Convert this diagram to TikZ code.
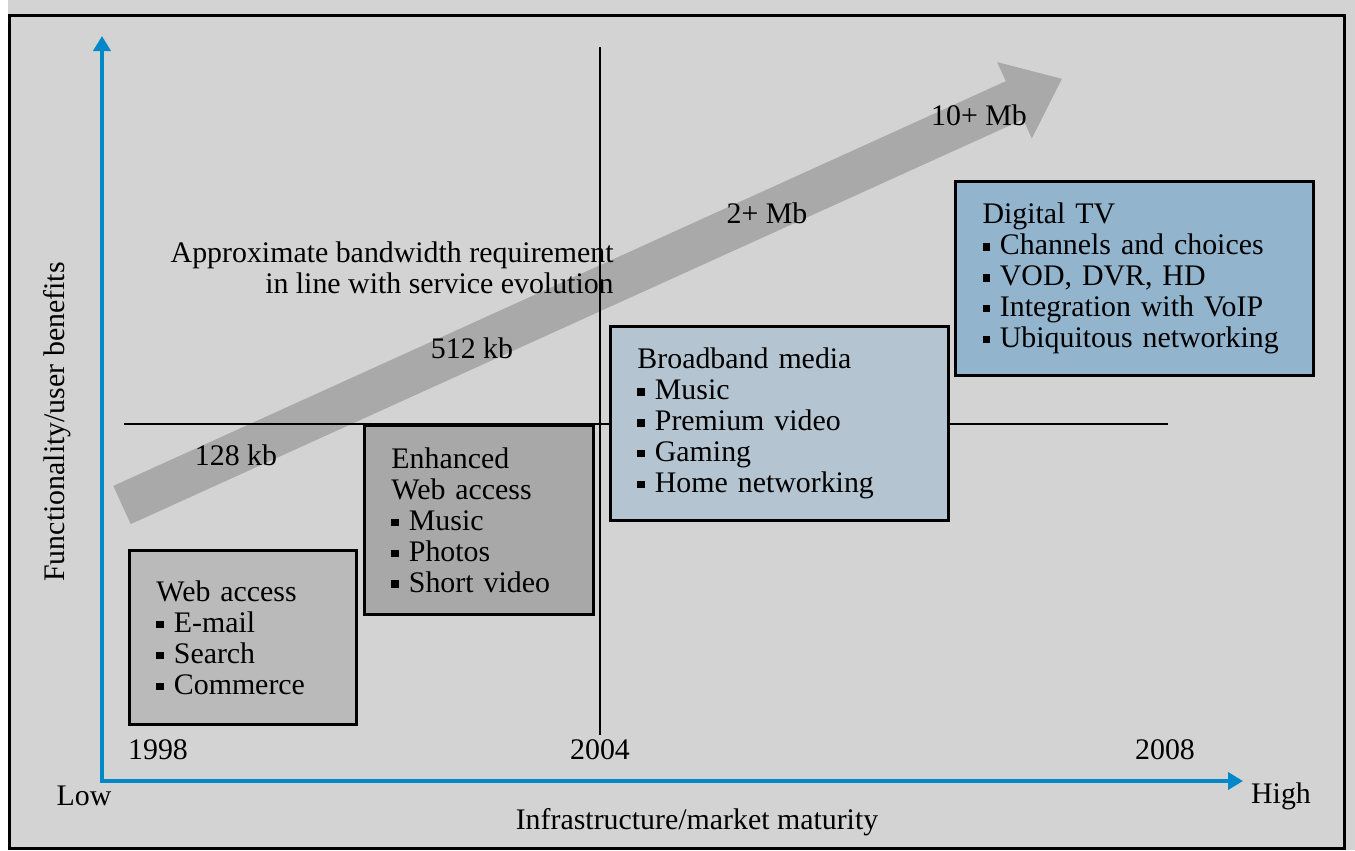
\documentclass[tikz,border=0pt]{standalone}
\usepackage{fontspec}
\setmainfont{Liberation Serif}
\usepackage{tikz}
\usetikzlibrary{arrows.meta, positioning, calc}

\definecolor{panelgray}{HTML}{D3D3D3}
\definecolor{webgray}{HTML}{BABABA}
\definecolor{enhgray}{HTML}{A8A8A8}
\definecolor{bandgray}{HTML}{A9A9A9}
\definecolor{mediablue}{HTML}{B4C4D0}
\definecolor{tvblue}{HTML}{92B4CC}
\definecolor{axisblue}{HTML}{0088C8}

% small square bullet for the service lists
\newcommand{\itm}{\raisebox{0.3ex}{\rule{0.25em}{0.25em}}\ }

\tikzset{
  txt/.style={font=\fontsize{17}{17.6}\selectfont, inner sep=0pt},
  stagebox/.style={txt, draw=black, line width=1.7pt, anchor=north west,
    align=left, inner xsep=0.54cm, inner ysep=0pt},
  axisline/.style={axisblue, line width=2.2pt,
    {Triangle[width=0.34cm, length=0.3cm]}-{Triangle[width=0.34cm, length=0.3cm]}},
  divider/.style={black, line width=1.1pt},
}

\begin{document}
\begin{tikzpicture}[x=0.02cm, y=-0.02cm]
    \useasboundingbox (0,0) rectangle (1355,850);
    % Panel
    \fill[panelgray] (0,0) rectangle (1355,850);
    \fill[white] (0,0) rectangle (8,850);
    \draw[line width=1.7pt] (9.5,15.5) rectangle (1344.5,848.5);
    % Bandwidth arrow
    \fill[bandgray] (113.3,485.9) -- (1005.8,81.2) -- (997.2,62.1) -- (1061.9,78.8)
        -- (1031.8,138.5) -- (1023.2,119.4) -- (130.7,524.1) -- cycle;
    % Quadrant lines
    \draw[divider] (600,47) -- (600,735);
    \draw[divider] (124,424) -- (1168,424);
    % Axes
    \coordinate (origin) at (102,781);
    \coordinate (ytop) at (102,36);
    \coordinate (xend) at (1243,781);
    \draw[axisline] (ytop) -- (origin) -- (xend);
    % Service stages
    \node[stagebox, fill=webgray, text width=3.46cm, minimum height=3.48cm] (web) at (128,549)
        {Web access\\ \itm E-mail\\ \itm Search\\ \itm Commerce};
    \node[stagebox, fill=enhgray, text width=3.5cm, minimum height=3.78cm] (enhanced) at (363,424)
        {Enhanced\\ Web access\\ \itm Music\\ \itm Photos\\ \itm Short video};
    \node[stagebox, fill=mediablue, text width=5.68cm, minimum height=3.88cm] (media) at (609,325)
        {Broadband media\\ \itm Music\\ \itm Premium video\\ \itm Gaming\\ \itm Home networking};
    \node[stagebox, fill=tvblue, text width=6.08cm, minimum height=3.88cm] (tv) at (954,180)
        {Digital TV\\ \itm Channels and choices\\ \itm VOD, DVR, HD\\ \itm Integration with VoIP\\ \mbox{\itm Ubiquitous networking}};
    % Rates along the arrow
    \node[txt] (kb128) at (236,455) {128 kb};
    \node[txt] (kb512) at (472,348) {512 kb};
    \node[txt] (mb2) at (767,213) {2+ Mb};
    \node[txt] (mb10) at (979,115) {10+ Mb};
    \node[txt, align=right, anchor=east] (bwnote) at (614,268)
        {Approximate bandwidth requirement\\ in line with service evolution};
    % Years
    \node[txt] (y1998) at (158,750) {1998};
    \node[txt] (y2004) at (600,750) {2004};
    \node[txt] (y2008) at (1165,750) {2008};
    % Axis labels
    \node[txt] (low) at (84,796) {Low};
    \node[txt] (high) at (1281,796) {High};
    \node[txt] (xlabel) at (697,822) {Infrastructure/market maturity};
    \node[txt, rotate=90] (ylabel) at (57,422) {Functionality/user benefits};
\end{tikzpicture}
\end{document}
